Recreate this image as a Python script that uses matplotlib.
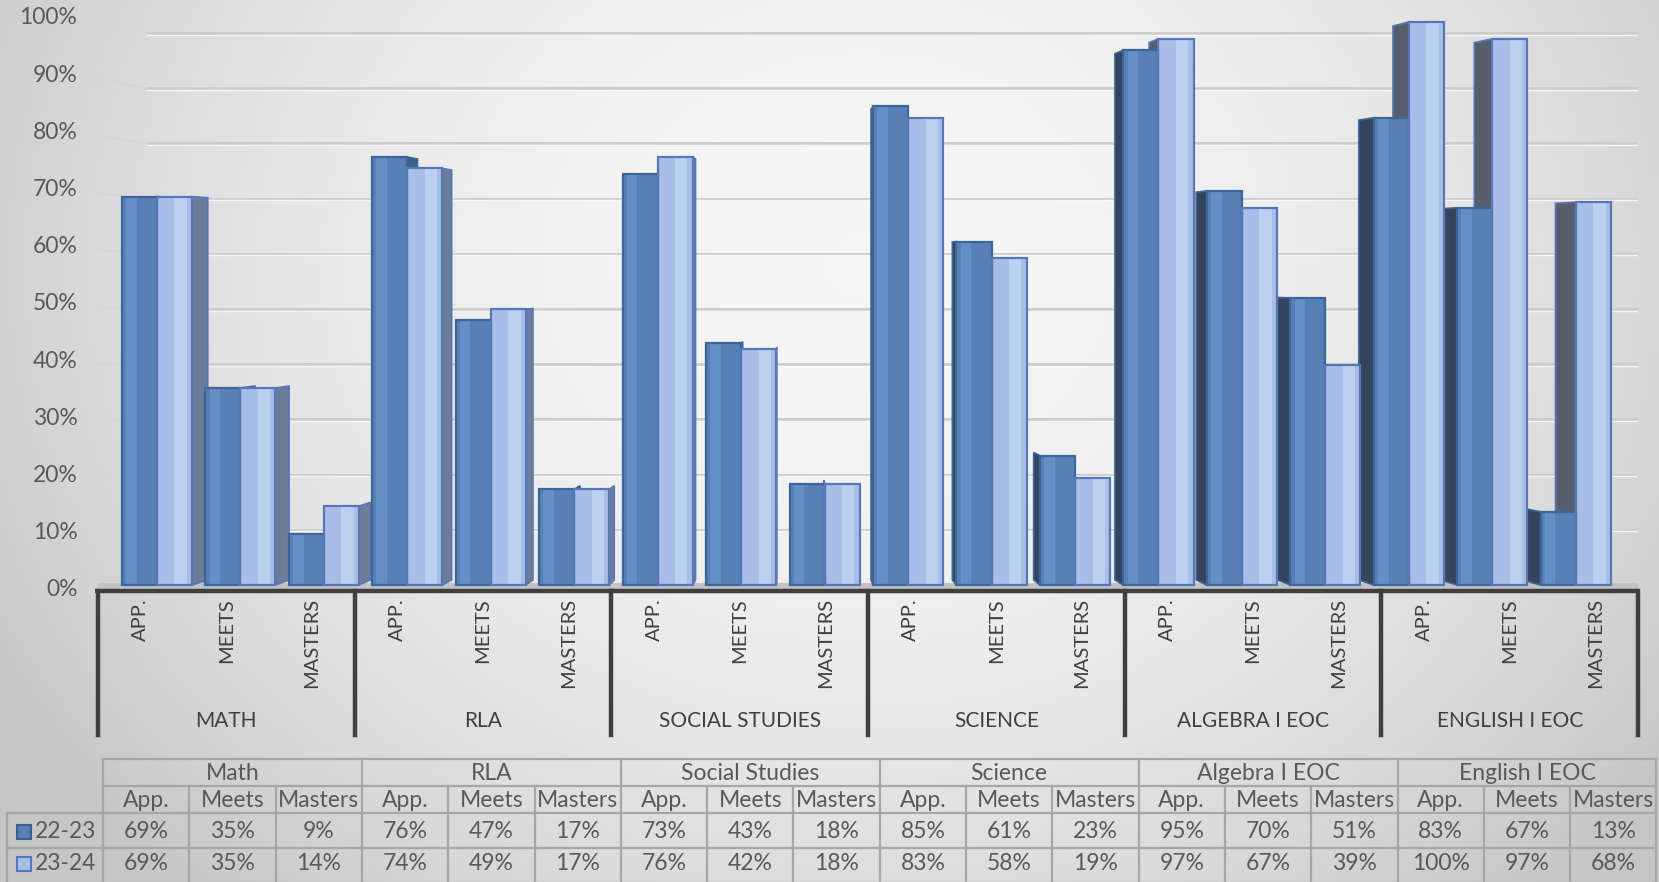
import matplotlib as mpl
mpl.use('Agg')
import matplotlib.pyplot as plt
from matplotlib.patches import Polygon, Rectangle
import numpy as np

plt.rcParams['font.family'] = ['Lato', 'DejaVu Sans']

# data
subjects = ['Math', 'RLA', 'Social Studies', 'Science', 'Algebra I EOC', 'English I EOC']
levels = ['App.', 'Meets', 'Masters']
series = ['22-23', '23-24']
vals_2223 = [69, 35, 9, 76, 47, 17, 73, 43, 18, 85, 61, 23, 95, 70, 51, 83, 67, 13]
vals_2324 = [69, 35, 14, 74, 49, 17, 76, 42, 18, 83, 58, 19, 97, 67, 39, 100, 97, 68]
y_ticks = [0, 10, 20, 30, 40, 50, 60, 70, 80, 90, 100]

W_PX, H_PX = 1659, 882
fig = plt.figure(figsize=(W_PX / 100, H_PX / 100), dpi=100)

# background gradient
bg = fig.add_axes([0, 0, 1, 1], zorder=0)
gx, gy = np.meshgrid(np.linspace(0, 1, 400), np.linspace(0, 1, 220))
r = np.sqrt(((gx - 0.52) / 0.62) ** 2 + ((gy - 0.3) / 1.0) ** 2)
shade = np.clip(0.965 - 0.2 * r ** 2, 0.78, 1)
bg.imshow(np.dstack([shade, shade, shade]), extent=[0, 1, 0, 1], aspect='auto', origin='upper')
bg.axis('off')

# main axes: x in category index units, y in fraction (front plane)
PIX0, PIXSC = 585, 563.0
def v_of(pix):
    return (PIX0 - pix) / PIXSC

ax = fig.add_axes([98 / W_PX, 1 - 600 / H_PX, 1540 / W_PX, 600 / H_PX], zorder=1)
ax.patch.set_alpha(0)
ax.set_xlim(-0.5, 17.5)
ax.set_ylim(v_of(600), v_of(0))
ax.axis('off')

BACK = 552 / PIXSC
for g in y_ticks[1:]:
    gv = g / 100 * BACK
    ax.plot([0.07, 17.5], [gv, gv], color='#cbcbcb', lw=2, zorder=1)
    ax.plot([0.07, 17.5], [gv - 0.003, gv - 0.003], color='#f7f7f7', lw=1, zorder=1)
    ax.plot([-0.52, 0.07], [(572 * g / 100 - 8) / PIXSC, gv], color='#d6d6d6', lw=1.5, zorder=1)
for g in y_ticks:
    ax.text(-0.74, (572 * g / 100 - 5) / PIXSC, f'{g}%', ha='right', va='center',
            fontsize=16.5, color='#595959', clip_on=False)

# floor and category axis
ax.fill_between([-0.5, 17.5], v_of(591), 0.004, color='#c3c3c3', zorder=1, lw=0)
ax.plot([-0.53, 17.5], [v_of(591), v_of(591)], color='#3f3f3f', lw=3.2, zorder=5,
        solid_capstyle='butt', clip_on=False)
for k in range(7):
    xs = -0.5 + 3 * k
    ax.plot([xs, xs], [v_of(591), v_of(735)], color='#3f3f3f', lw=3.2, zorder=5, clip_on=False)

# bars with pseudo 3D
X0, KS, KD, BW = 7.7, 0.0245, 0.026, 0.41
VY, TY = 0.56, 0.016
front_cols = [('#5781b6', '#6490c7', '#3d6598'), ('#a8bee6', '#bcd0f2', '#5877b8')]
right_face = ['#3f6089', '#6d7d98']
left_face = ['#34445d', '#565e6c']

def back_y(y):
    return y + TY * (VY - y)

for i in range(18):
    s = KS * (X0 - i)
    for j, vals in enumerate([vals_2223, vals_2324]):
        h = vals[i] / 100
        xl = i + s - BW + j * BW
        xr = xl + BW
        if xr < X0:
            xe, dx, fc = xr, KD * (X0 - xr), right_face[j]
        elif xl > X0:
            xe, dx, fc = xl, KD * (X0 - xl), left_face[j]
        else:
            xe, dx, fc = None, 0, None
        if xe is not None:
            face = Polygon([(xe, 0), (xe, h), (xe + dx, back_y(h)), (xe + dx, back_y(0))],
                           closed=True, facecolor=fc, edgecolor=front_cols[j][2], lw=1.2, zorder=2)
            ax.add_patch(face)
        base, hi, edge = front_cols[j]
        ax.add_patch(Rectangle((xl, 0), BW, h, facecolor=base, edgecolor='none', zorder=3))
        if j == 0:
            ax.add_patch(Rectangle((xl + 0.05, 0), BW * 0.3, h, facecolor=hi, edgecolor='none', zorder=3))
        else:
            ax.add_patch(Rectangle((xl + BW * 0.5, 0), BW * 0.35, h, facecolor=hi, edgecolor='none', zorder=3))
        ax.add_patch(Rectangle((xl, 0), BW, h, facecolor='none', edgecolor=edge, lw=1.6, zorder=4))

# category labels
for i in range(18):
    ax.text(i, v_of(598), levels[i % 3].upper(), rotation=90, ha='center', va='top',
            fontsize=14.5, color='#404040', clip_on=False)
for k, sub in enumerate(subjects):
    ax.text(3 * k + 1, v_of(721), sub.upper(), ha='center', va='center',
            fontsize=15, color='#404040', clip_on=False)

# data table drawn in pixel coordinates
tx = fig.add_axes([0, 0, 1, 1], zorder=2)
tx.patch.set_alpha(0)
tx.set_xlim(0, W_PX)
tx.set_ylim(H_PX, 0)
tx.axis('off')

LEG_L, COL0, COLW = 7, 103, 86.3
rows = [759, 786, 813, 848, 883]
gcol = '#a6a6a6'
tcol = '#595959'
col_x = [COL0 + c * COLW for c in range(19)]
# horizontal lines
for ri, ry in enumerate(rows):
    x_start = LEG_L if ri >= 2 else COL0
    tx.plot([x_start, col_x[-1]], [ry, ry], color=gcol, lw=1.6)
# vertical lines
for c, cx in enumerate(col_x):
    top = rows[0] if c % 3 == 0 else rows[1]
    tx.plot([cx, cx], [top, rows[-1]], color=gcol, lw=1.6)
tx.plot([LEG_L, LEG_L], [rows[2], rows[-1]], color=gcol, lw=1.6)

FS = 16.5
for k, sub in enumerate(subjects):
    tx.text((col_x[3 * k] + col_x[3 * k + 3]) / 2, (rows[0] + rows[1]) / 2 + 1, sub,
            ha='center', va='center', fontsize=FS, color=tcol)
for c in range(18):
    cx = (col_x[c] + col_x[c + 1]) / 2
    tx.text(cx, (rows[1] + rows[2]) / 2 + 1, levels[c % 3], ha='center', va='center',
            fontsize=FS, color=tcol)
    tx.text(cx, (rows[2] + rows[3]) / 2 + 1, f'{vals_2223[c]}%', ha='center', va='center',
            fontsize=FS, color=tcol)
    tx.text(cx, (rows[3] + rows[4]) / 2 - 2, f'{vals_2324[c]}%', ha='center', va='center',
            fontsize=FS, color=tcol)

leg_face = ['#5781b6', '#a8bee6']
leg_edge = ['#3d5f8e', '#5877b8']
for j, name in enumerate(series):
    cy = (rows[2 + j] + rows[3 + j]) / 2 + (1 if j == 0 else -2)
    tx.add_patch(Rectangle((17, cy - 7), 14, 14, facecolor=leg_face[j], edgecolor=leg_edge[j], lw=1.5))
    tx.text(35, cy, name, ha='left', va='center', fontsize=FS, color=tcol)

fig.savefig('out.png', dpi=100)
